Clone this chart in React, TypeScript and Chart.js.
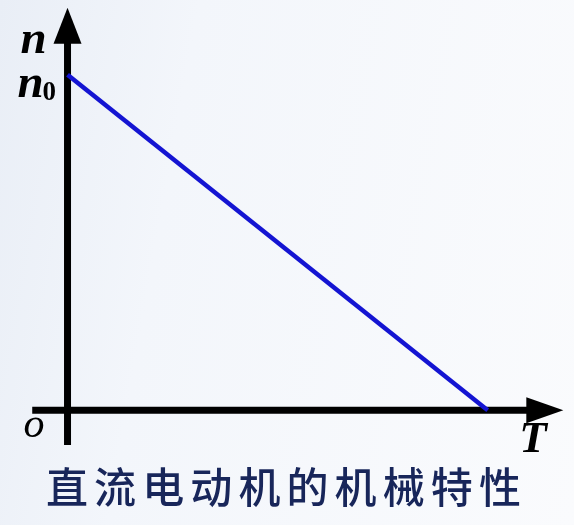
import React, { useEffect, useRef } from "react";
import { Chart, registerables } from "chart.js";

Chart.register(...registerables);

// Mechanical characteristic of a DC motor (normalized): n falls linearly from n0 at T=0 to 0
const torque: number[] = [0, 1];
const speed: number[] = [1, 0];
const yAxisLabel = "n";
const yTickLabel = "n";
const yTickSub = "0";
const xAxisLabel = "T";
const originLabel = "o";
const caption = "直流电动机的机械特性";

const axesPlugin = {
  id: "axesPlugin",
  beforeDatasetsDraw(chart: any) {
    const { ctx, scales } = chart;
    const xs = scales.x;
    const ys = scales.y;
    const x0 = xs.getPixelForValue(0);
    const y0 = ys.getPixelForValue(0);
    ctx.save();
    ctx.strokeStyle = "#000";
    ctx.fillStyle = "#000";
    ctx.lineWidth = 7;
    ctx.lineCap = "butt";
    // y axis
    const yTop = ys.getPixelForValue(1.1);
    const yBot = ys.getPixelForValue(-0.104);
    ctx.beginPath();
    ctx.moveTo(x0, yBot);
    ctx.lineTo(x0, yTop);
    ctx.stroke();
    const yTip = ys.getPixelForValue(1.2);
    ctx.beginPath();
    ctx.moveTo(x0, yTip);
    ctx.lineTo(x0 + 14, yTip + 36);
    ctx.lineTo(x0 - 14, yTip + 36);
    ctx.closePath();
    ctx.fill();
    // x axis
    const xLeft = xs.getPixelForValue(-0.084);
    const xRight = xs.getPixelForValue(1.1);
    ctx.beginPath();
    ctx.moveTo(xLeft, y0);
    ctx.lineTo(xRight, y0);
    ctx.stroke();
    const xTip = xs.getPixelForValue(1.18);
    ctx.beginPath();
    ctx.moveTo(xTip, y0);
    ctx.lineTo(xTip - 37, y0 - 13);
    ctx.lineTo(xTip - 37, y0 + 13);
    ctx.closePath();
    ctx.fill();
    ctx.restore();
  },
  afterDraw(chart: any) {
    const { ctx, scales } = chart;
    const xs = scales.x;
    const ys = scales.y;
    const x0 = xs.getPixelForValue(0);
    const y0 = ys.getPixelForValue(0);
    const yn0 = ys.getPixelForValue(speed[0]);
    ctx.save();
    ctx.fillStyle = "#000";
    ctx.textBaseline = "alphabetic";
    ctx.textAlign = "left";
    ctx.font = "bold italic 47px 'Liberation Serif'";
    ctx.fillText(yAxisLabel, x0 - 47, ys.getPixelForValue(1.2) + 45);
    ctx.fillText(yTickLabel, x0 - 50, yn0 + 22);
    ctx.font = "bold 27px 'Liberation Serif'";
    ctx.fillText(yTickSub, x0 - 25, yn0 + 25);
    ctx.font = "italic 42px 'Liberation Serif'";
    ctx.fillText(originLabel, x0 - 44, y0 + 27);
    ctx.font = "bold italic 45px 'Liberation Serif'";
    ctx.fillText(xAxisLabel, xs.getPixelForValue(1.18) - 44, y0 + 42);
    // caption
    ctx.fillStyle = "#18265a";
    ctx.font = "500 42px 'Noto Sans CJK SC'";
    ctx.textAlign = "center";
    ctx.textBaseline = "middle";
    const chars = Array.from(caption);
    const step = 48.1;
    const start = 67;
    chars.forEach((c, i) => ctx.fillText(c, start + i * step, 487));
    ctx.restore();
  },
};

export default function App() {
  const ref = useRef<HTMLCanvasElement | null>(null);
  useEffect(() => {
    if (!ref.current) return;
    const chart = new Chart(ref.current, {
      type: "scatter",
      data: {
        datasets: [
          {
            data: torque.map((t, i) => ({ x: t, y: speed[i] })),
            showLine: true,
            borderColor: "#1414d2",
            borderWidth: 4.5,
            pointRadius: 0,
            fill: false,
          },
        ],
      },
      options: {
        animation: false,
        responsive: false,
        maintainAspectRatio: false,
        layout: { padding: 0 },
        plugins: { legend: { display: false }, tooltip: { enabled: false }, title: { display: false } },
        scales: {
          x: { type: "linear", display: false, min: -0.1607, max: 1.2054 },
          y: { type: "linear", display: false, min: -0.3423, max: 1.2232 },
        },
      },
      plugins: [axesPlugin],
    });
    return () => chart.destroy();
  }, []);
  return (
    <div
      style={{
        position: "fixed",
        left: 0,
        top: 0,
        width: 574,
        height: 525,
        background: "linear-gradient(100deg, #e9eef6 0%, #f3f6fb 30%, #fafbfd 100%)",
      }}
    >
      <canvas ref={ref} width={574} height={525} style={{ display: "block" }} />
    </div>
  );
}
